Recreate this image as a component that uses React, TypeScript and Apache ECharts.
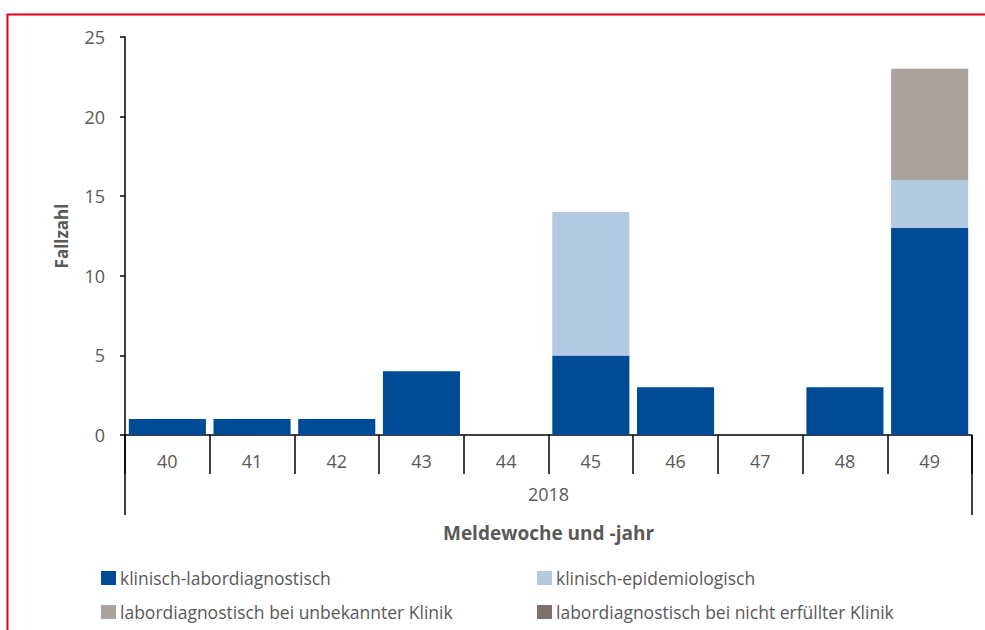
import React, { useEffect, useRef } from "react";
import * as echarts from "echarts";

const weeks = ["40", "41", "42", "43", "44", "45", "46", "47", "48", "49"];
const yearLabel = ["2018"];
const klinLabor = [1, 1, 1, 4, 0, 5, 3, 0, 3, 13];
const klinEpi = [0, 0, 0, 0, 0, 9, 0, 0, 0, 3];
const laborUnbekannt = [0, 0, 0, 0, 0, 0, 0, 0, 0, 7];
const laborNicht = [0, 0, 0, 0, 0, 0, 0, 0, 0, 0];
const seriesNames = [
  "klinisch-labordiagnostisch",
  "klinisch-epidemiologisch",
  "labordiagnostisch bei unbekannter Klinik",
  "labordiagnostisch bei nicht erfüllter Klinik",
];
const colors = ["#004B96", "#B3CAE1", "#AAA29F", "#7D716F"];
const FONT = "'Open Sans', sans-serif";

export default function App() {
  const ref = useRef<HTMLDivElement>(null);
  useEffect(() => {
    if (!ref.current) return;
    const chart = echarts.init(ref.current, null, { renderer: "svg" });
    const data = [klinLabor, klinEpi, laborUnbekannt, laborNicht];
    const legendText = { fontFamily: FONT, fontSize: 17.5, color: "#595959", padding: [0, 0, 0, -1] };
    chart.setOption({
      animation: false,
      textStyle: { fontFamily: FONT },
      graphic: [
        {
          type: "rect",
          left: 5,
          top: 12,
          shape: { width: 1100, height: 800 },
          style: { fill: "none", stroke: "#E2001A", lineWidth: 2 },
          z: 100,
        },
      ],
      grid: { left: 125, right: 13, top: 37, bottom: 195, containLabel: false },
      legend: [
        {
          data: [seriesNames[0], seriesNames[2]],
          orient: "vertical",
          left: 101,
          top: 569,
          padding: 0,
          itemGap: 16,
          itemWidth: 15,
          itemHeight: 14,
          icon: "rect",
          textStyle: legendText,
        },
        {
          data: [seriesNames[1], seriesNames[3]],
          orient: "vertical",
          left: 537,
          top: 569,
          padding: 0,
          itemGap: 16,
          itemWidth: 15,
          itemHeight: 14,
          icon: "rect",
          textStyle: legendText,
        },
      ],
      xAxis: [
        {
          type: "category",
          data: weeks,
          position: "bottom",
          axisLine: { show: true, lineStyle: { color: "#000", width: 1.5 } },
          axisTick: { show: true, alignWithLabel: false, length: 39, lineStyle: { color: "#000", width: 1.5 } },
          axisLabel: { color: "#595959", fontSize: 18, fontFamily: FONT, margin: 17 },
        },
        {
          type: "category",
          data: yearLabel,
          position: "bottom",
          offset: 0,
          axisLine: { show: false },
          axisTick: { show: true, alignWithLabel: false, length: 80, lineStyle: { color: "#000", width: 1.5 } },
          axisLabel: { color: "#595959", fontSize: 18, fontFamily: FONT, margin: 50 },
          name: "Meldewoche und -jahr",
          nameLocation: "middle",
          nameGap: 88,
          nameTextStyle: { color: "#595959", fontSize: 19, fontWeight: "bold", fontFamily: FONT },
        },
      ],
      yAxis: {
        type: "value",
        min: 0,
        max: 25,
        interval: 5,
        name: "Fallzahl",
        nameLocation: "middle",
        nameGap: 55,
        nameTextStyle: { color: "#595959", fontSize: 17, fontWeight: "bold", fontFamily: FONT },
        axisLine: { show: true, lineStyle: { color: "#000", width: 1.5 } },
        axisTick: { show: true, inside: false, length: 5, lineStyle: { color: "#000", width: 1.5 } },
        axisLabel: { color: "#595959", fontSize: 18, fontFamily: FONT, margin: 20 },
        splitLine: { show: false },
      },
      series: seriesNames.map((name, i) => ({
        name,
        type: "bar",
        stack: "total",
        xAxisIndex: 0,
        data: data[i],
        barCategoryGap: "9%",
        itemStyle: { color: colors[i] },
      })),
    });
    return () => chart.dispose();
  }, []);
  return <div ref={ref} style={{ width: 985, height: 630, position: "absolute", left: 0, top: 0 }} />;
}
